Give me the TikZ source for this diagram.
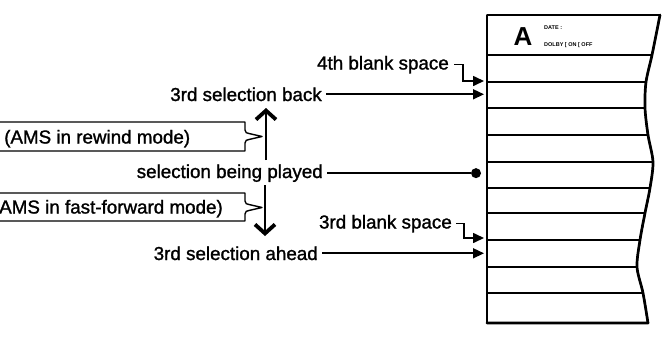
\documentclass[tikz,border=0pt]{standalone}
\usepackage{fontspec}
\setmainfont{Liberation Sans}
\newfontfamily\medfont[FakeBold=1.3]{Liberation Sans}
\usetikzlibrary{arrows.meta}
\begin{document}
\begin{tikzpicture}[x=1pt,y=-1pt,
  lbl/.style={font=\medfont\fontsize{18.8}{20}\selectfont, inner sep=0pt, anchor=base east},
  boxtext/.style={font=\medfont\fontsize{18.8}{20}\selectfont, inner sep=0pt},
  tiny/.style={font=\bfseries\fontsize{5.5}{5.5}\selectfont, anchor=west, inner sep=0pt},
  conn/.style={line width=1.6pt, -{Triangle[length=11pt,width=10pt]}},
  bigarrow/.style={line width=2.8pt, -{Straight Barb[length=9pt,width=20pt,line width=3.8pt]}},
  callout/.style={line width=1.4pt},
  cardline/.style={line width=1.6pt},
  dotstyle/.style={circle, fill=black, inner sep=0pt, minimum size=10pt},
]
\useasboundingbox (0,0) rectangle (667,338);
\fill[white] (0,0) rectangle (667,338);

% card
\def\cardpath{(487,323) -- (487,15) -- plot[smooth] coordinates {(660,15) (652,55) (646,82) (645,108) (648,135) (653,162) (650,188) (645,213) (640,240) (637,267) (643,293) (648,323)} -- cycle}
\begin{scope}
  \clip \cardpath;
  \foreach \yy in {55,82,108,135,162,188,213,240,267,293}
    \draw[cardline] (480,\yy) -- (670,\yy);
\end{scope}
\draw[line width=1.7pt, line join=round] \cardpath;
\draw[line width=2.7pt, line join=round, line cap=round] plot[smooth] coordinates {(660,15) (652,55) (646,82) (645,108) (648,135) (653,162) (650,188) (645,213) (640,240) (637,267) (643,293) (648,323)} -- (487,323);

\node[font=\bfseries\fontsize{26}{26}\selectfont, inner sep=0pt] (A) at (523,37) {A};
\node[tiny] (date) at (544,28) {DATE :};
\node[tiny] (dolby) at (544,45) {DOLBY [ ON [ OFF};

% targets
\coordinate (cardL) at (484,0);
\coordinate (t4) at (484,81);
\coordinate (t3) at (484,238);
\coordinate (dotx) at (476,0);

% labels
\node[lbl] (fourth) at (449,69.5) {4th blank space};
\node[lbl] (back) at (322,101) {3rd selection back};
\node[lbl] (played) at (323,178) {selection being played};
\node[lbl] (third) at (452,228.5) {3rd blank space};
\node[lbl] (ahead) at (318,260) {3rd selection ahead};

\draw[conn] ([xshift=5pt]fourth.east) -- ++(9,0) |- (t4);
\draw[conn] ([xshift=4pt]back.east) -- (back.east -| cardL);
\node[dotstyle] (dot) at (played.east -| dotx) {};
\draw[line width=1.6pt] ([xshift=4pt]played.east) -- (dot);
\draw[conn] ([xshift=4pt]third.east) -- ++(8,0) |- (t3);
\draw[conn] ([xshift=4pt]ahead.east) -- (ahead.east -| cardL);

% up / down arrows
\coordinate (upS) at (266,160);
\coordinate (upE) at (266,108);
\coordinate (dnS) at (265,185);
\coordinate (dnE) at (265,236);
\draw[bigarrow] (upS) -- (upE);
\draw[bigarrow] (dnS) -- (dnE);

% callout boxes
\draw[callout, line join=round] (-10,122) -- (245,122) -- (245,130)
  .. controls (245,133) and (247,133) .. (249,133.5) -- (262,136.5)
  -- (249,139.5) .. controls (247,140) and (245,140) .. (245,143) -- (245,151) -- (-10,151);
\node[boxtext, anchor=base west] (rew) at (4,143.5) {(AMS in rewind mode)};

\draw[callout, line join=round] (-10,193) -- (245,193) -- (245,201)
  .. controls (245,204) and (247,204) .. (249,204.5) -- (262,207.5)
  -- (249,210.5) .. controls (247,211) and (245,211) .. (245,214) -- (245,221) -- (-10,221);
\node[boxtext, anchor=base east] (ff) at (223,213.5) {(AMS in fast-forward mode)};
\end{tikzpicture}
\end{document}
